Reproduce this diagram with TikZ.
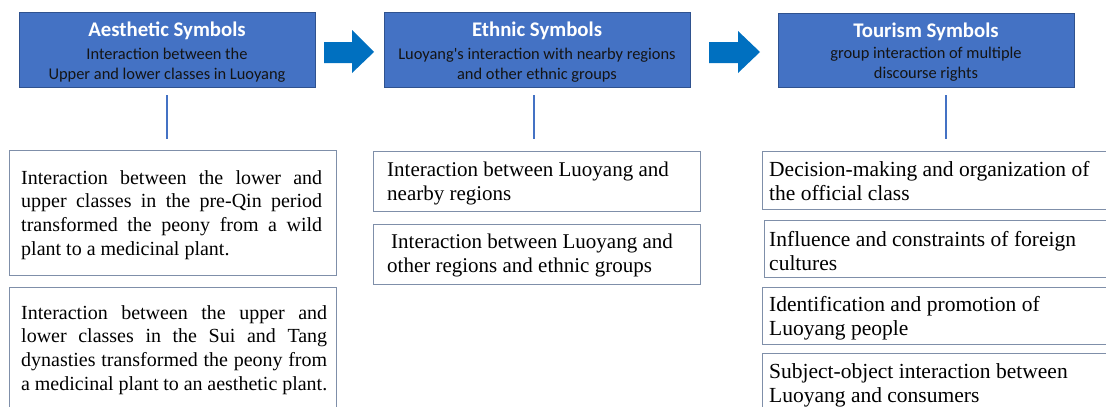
\documentclass[tikz,border=0pt]{standalone}
\usepackage{fontspec}
\setmainfont{Liberation Serif}
\newfontfamily\calib{Carlito}
\definecolor{boxblue}{HTML}{4472C4}
\definecolor{boxedge}{HTML}{2F528F}
\definecolor{arrowblue}{HTML}{0070C0}
\definecolor{bedge}{HTML}{7F8FA9}
\definecolor{subtxt}{HTML}{141414}
\begin{document}
\begin{tikzpicture}[x=1pt,y=-1pt,
  topbox/.style={draw=boxedge,line width=0.8pt,fill=boxblue,anchor=north west,inner sep=0pt},
  titletext/.style={text=white,font=\calib\bfseries\fontsize{20.8}{24}\selectfont,anchor=base,inner sep=0pt},
  subtext/.style={text=subtxt,font=\calib\fontsize{16.4}{20}\selectfont,anchor=base,inner sep=0pt},
  conn/.style={draw=boxblue,line width=2pt},
  blockarrow/.style={fill=arrowblue},
  bbox/.style={draw=bedge,line width=1.4pt,anchor=north west,inner sep=0pt},
  ltext/.style={font=\fontsize{20}{23.7}\selectfont,anchor=north west,inner sep=0pt,align=justify},
  mtext/.style={font=\fontsize{21}{24.5}\selectfont,anchor=north west,inner sep=0pt,align=justify,text width=320pt},
  rtext/.style={font=\fontsize{21.5}{24.5}\selectfont,anchor=north west,inner sep=0pt,align=justify,text width=334pt}]
\useasboundingbox (0,0) rectangle (1106,407);
\begin{scope}
\clip (0,0) rectangle (1106,407);
% top boxes
\node[topbox,minimum width=296pt,minimum height=75pt] (t1) at (19,12) {};
\node[topbox,minimum width=306pt,minimum height=75pt] (t2) at (384,12) {};
\node[topbox,minimum width=296pt,minimum height=74pt] (t3) at (778,13) {};
\node[titletext] (t1h) at (167,36) {Aesthetic Symbols};
\node[subtext] (t1a) at (167,59) {Interaction between the};
\node[subtext] (t1b) at (167,79) {Upper and lower classes in Luoyang};
\node[titletext] (t2h) at (537,36) {Ethnic Symbols};
\node[subtext] (t2a) at (537,59) {Luoyang's interaction with nearby regions};
\node[subtext] (t2b) at (537,79) {and other ethnic groups};
\node[titletext] (t3h) at (926,37) {Tourism Symbols};
\node[subtext] (t3a) at (926,58) {group interaction of multiple};
\node[subtext] (t3b) at (926,78) {discourse rights};
% block arrows
\fill[blockarrow] (324,42) -- (352,42) -- (352,30) -- (374,52) -- (352,73) -- (352,63) -- (324,63) -- cycle;
\fill[blockarrow] (709,42) -- (738,42) -- (738,31) -- (760,52) -- (738,73) -- (738,63) -- (709,63) -- cycle;
% connectors
\coordinate (c1a) at (167,95); \coordinate (c1b) at (167,139);
\coordinate (c2a) at (534,95); \coordinate (c2b) at (534,139);
\coordinate (c3a) at (946,95); \coordinate (c3b) at (946,139);
\draw[conn] (c1a) -- (c1b);
\draw[conn] (c2a) -- (c2b);
\draw[conn] (c3a) -- (c3b);
% bottom boxes
\node[bbox,minimum width=327pt,minimum height=125pt] (ba) at (9,150) {};
\node[bbox,minimum width=327pt,minimum height=125pt] (bb) at (9,287) {};
\node[bbox,minimum width=327pt,minimum height=60pt] (bc) at (373,151) {};
\node[bbox,minimum width=327pt,minimum height=60pt] (bd) at (373,224) {};
\node[bbox,minimum width=360pt,minimum height=58pt] (be) at (762,151) {};
\node[bbox,minimum width=360pt,minimum height=57pt] (bf) at (764,220) {};
\node[bbox,minimum width=360pt,minimum height=57pt] (bg) at (762,287) {};
\node[bbox,minimum width=360pt,minimum height=60pt] (bh) at (762,353) {};
% texts
\node[ltext,text width=301pt] (xa) at (21,{184-16.59}) {\noindent\strut Interaction between the lower and\linebreak
upper classes in the pre-Qin period\linebreak
transformed the peony from a wild\linebreak
plant to a medicinal plant.};
\node[ltext,text width=306pt] (xb) at (21,{319-16.59}) {\noindent\strut Interaction between the upper and\linebreak
lower classes in the Sui and Tang\linebreak
dynasties transformed the peony from\linebreak
a medicinal plant to an aesthetic plant.};
\node[mtext] (xc) at (387,{176-17.15}) {\noindent\strut Interaction between Luoyang and\\nearby regions};
\node[mtext] (xd) at (387,{248-17.15}) {\noindent\strut\hspace*{4pt}Interaction between Luoyang and\\other regions and ethnic groups};
\node[rtext] (xe) at (769,{176-17.15}) {\noindent\strut Decision-making and organization of\\the official class};
\node[rtext] (xf) at (769,{246-17.15}) {\noindent\strut Influence and constraints of foreign\\cultures};
\node[rtext] (xg) at (769,{311-17.15}) {\noindent\strut Identification and promotion of\\Luoyang people};
\node[rtext] (xh) at (769,{378-17.15}) {\noindent\strut Subject-object interaction between\\Luoyang and consumers};
\end{scope}
\end{tikzpicture}
\end{document}
